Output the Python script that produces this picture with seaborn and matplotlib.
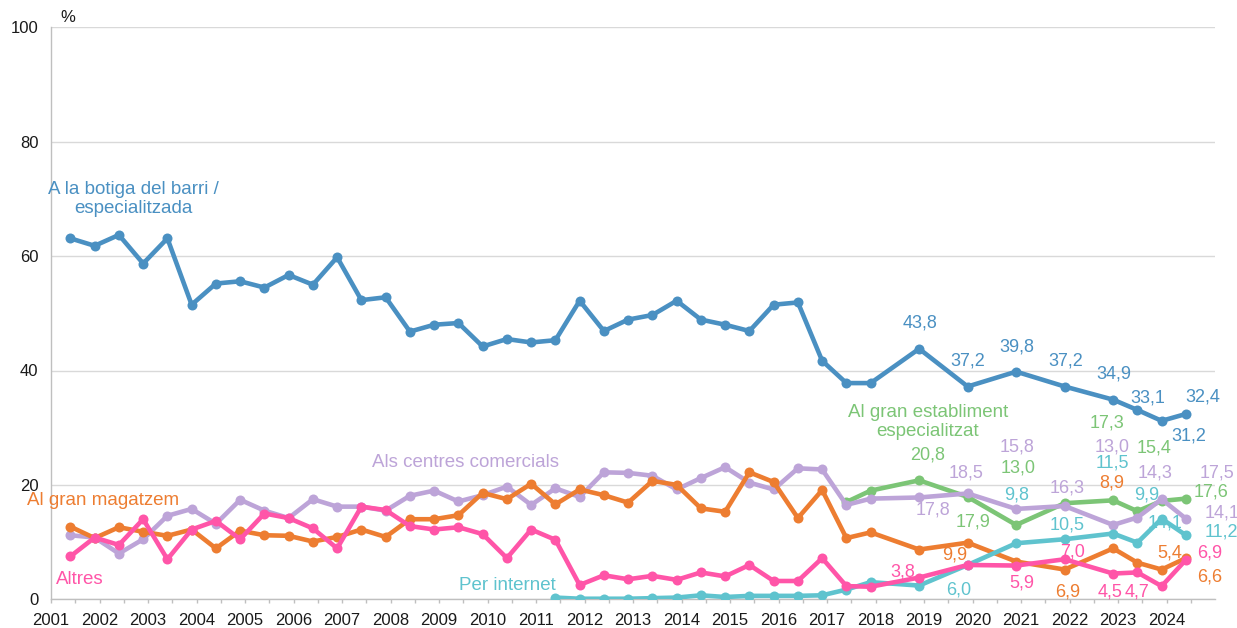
import matplotlib
matplotlib.use("Agg")
import numpy as np
import pandas as pd
import matplotlib.pyplot as plt
import seaborn as sns

# survey waves (two per year until 2017, then yearly, then two again)
waves = [2001.4, 2001.9, 2002.4, 2002.9, 2003.4, 2003.9, 2004.4, 2004.9,
         2005.4, 2005.9, 2006.4, 2006.9, 2007.4, 2007.9, 2008.4, 2008.9,
         2009.4, 2009.9, 2010.4, 2010.9, 2011.4, 2011.9, 2012.4, 2012.9,
         2013.4, 2013.9, 2014.4, 2014.9, 2015.4, 2015.9, 2016.4, 2016.9,
         2017.4, 2017.9, 2018.9, 2019.9, 2020.9, 2021.9, 2022.9, 2023.4,
         2023.9, 2024.4]

botiga = [63.1, 61.8, 63.7, 58.7, 63.1, 51.5, 55.2, 55.6, 54.5, 56.7,
          55.0, 59.8, 52.3, 52.8, 46.8, 48.0, 48.3, 44.2, 45.5, 44.9,
          45.3, 52.2, 46.9, 48.9, 49.7, 52.2, 48.9, 48.0, 46.9, 51.5,
          51.9, 41.7, 37.8, 37.8, 43.8, 37.2, 39.8, 37.2, 34.9, 33.1,
          31.2, 32.4]
centres = [11.2, 10.8, 8.0, 10.5, 14.6, 15.8, 13.2, 17.4, 15.5, 14.2,
           17.5, 16.2, 16.2, 15.5, 18.1, 19.0, 17.1, 18.2, 19.7, 16.5,
           19.4, 17.9, 22.2, 22.1, 21.6, 19.2, 21.2, 23.1, 20.4, 19.2,
           22.9, 22.7, 16.5, 17.6, 17.8, 18.5, 15.8, 16.3, 13.0, 14.3,
           17.5, 14.1]
magatzem = [12.7, 10.7, 12.6, 11.8, 11.1, 12.2, 8.9, 12.0, 11.2, 11.1,
            10.1, 10.9, 12.2, 10.9, 14.0, 14.0, 14.7, 18.6, 17.5, 20.2,
            16.6, 19.2, 18.2, 16.9, 20.7, 20.0, 15.9, 15.3, 22.2, 20.5,
            14.2, 19.1, 10.7, 11.7, 8.7, 9.9, 6.6, 5.2, 8.9, 6.4,
            5.2, 7.2]
altres = [7.5, 10.8, 9.5, 14.0, 7.0, 12.2, 13.7, 10.5, 15.0, 14.2,
          12.4, 8.9, 16.2, 15.6, 12.8, 12.2, 12.6, 11.4, 7.2, 12.2,
          10.4, 2.5, 4.2, 3.5, 4.1, 3.4, 4.7, 4.0, 6.0, 3.2,
          3.2, 7.2, 2.3, 2.2, 3.8, 6.0, 5.9, 7.0, 4.5, 4.7,
          2.3, 6.9]
# internet asked from 2011, specialised big store from 2017
internet = [0.3, 0.1, 0.1, 0.1, 0.2, 0.3, 0.7, 0.4, 0.6, 0.6, 0.6,
            0.7, 1.7, 3.0, 2.4, 6.0, 9.8, 10.5, 11.5, 9.9, 14.1, 11.2]
establiment = [17.0, 19.0, 20.8, 17.9, 13.0, 16.8, 17.3, 15.4, 17.2, 17.6]

series_names = ["A la botiga del barri / especialitzada", "Al gran establiment especialitzat",
                "Als centres comercials", "Al gran magatzem", "Per internet", "Altres"]
colors = ["#4A90C2", "#7CC576", "#BDA4D8", "#ED7D31", "#5FC3CE", "#FF55A8"]

# series name labels
name_text = ["A la botiga del barri /\nespecialitzada", "Al gran establiment\nespecialitzat",
             "Als centres comercials", "Al gran magatzem", "Per internet", "Altres"]
name_x = [2002.69, 2019.08, 2009.54, 2002.07, 2010.40, 2001.60]
name_y = [70.0, 31.0, 23.9, 17.2, 2.5, 3.4]

# value labels (series index, text, x, y)
val_series = [0] * 8 + [1] * 6 + [2] * 8 + [4] * 7 + [3] * 5 + [5] * 6
val_text = ["43,8", "37,2", "39,8", "37,2", "34,9", "33,1", "31,2", "32,4",
            "20,8", "17,9", "13,0", "17,3", "15,4", "17,6",
            "17,8", "18,5", "15,8", "16,3", "13,0", "14,3", "17,5", "14,1",
            "9,8", "6,0", "10,5", "11,5", "9,9", "14,1", "11,2",
            "9,9", "6,9", "8,9", "5,4", "6,6",
            "3,8", "5,9", "7,0", "4,5", "4,7", "6,9"]
val_x = [2018.92, 2019.91, 2020.92, 2021.93, 2022.92, 2023.62, 2024.46, 2024.75,
         2019.08, 2020.01, 2020.94, 2022.77, 2023.74, 2024.92,
         2019.19, 2019.87, 2020.92, 2021.95, 2022.88, 2023.76, 2025.04, 2025.14,
         2020.92, 2019.72, 2021.95, 2022.88, 2023.60, 2023.97, 2025.14,
         2019.64, 2021.97, 2022.88, 2024.07, 2024.90,
         2018.57, 2021.02, 2022.07, 2022.84, 2023.39, 2024.90]
val_y = [48.3, 41.7, 44.1, 41.7, 39.4, 35.2, 28.5, 35.4,
         25.3, 13.5, 23.0, 30.8, 26.5, 18.8,
         15.6, 22.1, 26.6, 19.5, 26.6, 22.1, 22.1, 15.1,
         18.3, 1.6, 13.0, 23.8, 18.3, 13.3, 11.8,
         7.7, 1.3, 20.3, 8.1, 3.9,
         4.8, 2.8, 8.3, 1.3, 1.3, 8.1]

years = list(range(2001, 2025))

frames = [
    pd.DataFrame({"wave": waves, "pct": botiga, "serie": series_names[0]}),
    pd.DataFrame({"wave": waves[32:], "pct": establiment, "serie": series_names[1]}),
    pd.DataFrame({"wave": waves, "pct": centres, "serie": series_names[2]}),
    pd.DataFrame({"wave": waves, "pct": magatzem, "serie": series_names[3]}),
    pd.DataFrame({"wave": waves[20:], "pct": internet, "serie": series_names[4]}),
    pd.DataFrame({"wave": waves, "pct": altres, "serie": series_names[5]}),
]
df = pd.concat(frames, ignore_index=True)

sns.set_theme(style="white")
plt.rcParams["font.family"] = ["Liberation Sans", "DejaVu Sans"]

fig = plt.figure(figsize=(12.37, 6.28), dpi=100)
ax = fig.add_axes([51 / 1237, 1 - 599.3 / 628, (1215 - 51) / 1237, (599.3 - 27.3) / 628])

sns.lineplot(data=df, x="wave", y="pct", hue="serie", hue_order=series_names,
             palette=colors, estimator=None, marker="o", markersize=7.2,
             markeredgewidth=0, linewidth=3.3, legend=False, ax=ax, zorder=3)

ax.set_xlim(2001, 2025)
ax.set_ylim(0, 100)
ax.set_yticks([0, 20, 40, 60, 80, 100])
ax.set_xticks(years)
ax.set_xticklabels([str(y) for y in years])
ax.set_xticks([y + 0.5 for y in years], minor=True)
ax.set_xlabel("")
ax.set_ylabel("")
ax.yaxis.grid(True, color="#D9D9D9", linewidth=1.0)
ax.set_axisbelow(True)
for s in ["top", "right"]:
    ax.spines[s].set_visible(False)
for s in ["left", "bottom"]:
    ax.spines[s].set_color("#BFBFBF")
    ax.spines[s].set_linewidth(1.0)
ax.tick_params(axis="y", length=0, pad=9, labelsize=12, labelcolor="#1a1a1a")
ax.tick_params(axis="x", which="both", bottom=True, length=3, width=1,
               color="#BFBFBF", pad=7, labelsize=12, labelcolor="#1a1a1a")

fig.text(68 / 1237, 1 - 17 / 628, "%", ha="center", va="center", fontsize=12, color="#1a1a1a")

for t, x, y, c in zip(name_text, name_x, name_y, colors):
    ax.text(x, y, t, ha="center", va="center", fontsize=13.5, color=c,
            linespacing=1.15, zorder=5)

for si, t, x, y in zip(val_series, val_text, val_x, val_y):
    ax.text(x, y, t, ha="center", va="center", fontsize=13, color=colors[si],
            clip_on=False, zorder=5)

fig.savefig("out.png", dpi=100)
